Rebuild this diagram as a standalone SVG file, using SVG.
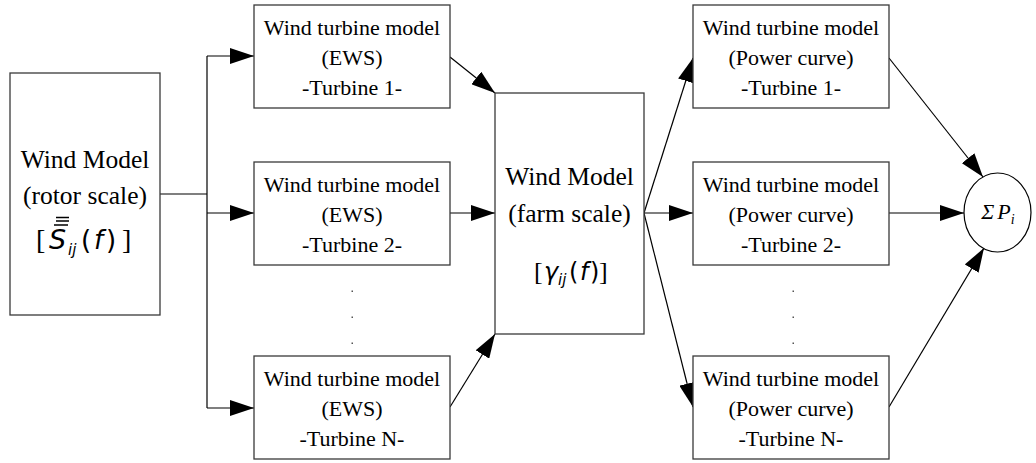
<svg xmlns="http://www.w3.org/2000/svg" width="1036" height="463" viewBox="0 0 1036 463">
<defs>
<style>
.box{fill:#fff;stroke:#3a3a3a;stroke-width:1.3}
.t{font-family:"Liberation Serif",serif;font-size:22px;fill:#000;text-anchor:middle}
.tb{font-family:"Liberation Serif",serif;font-size:25.5px;fill:#000;text-anchor:middle}
.m{font-family:"DejaVu Sans",sans-serif;font-style:italic;fill:#000}
.p{font-family:"DejaVu Sans",sans-serif;fill:#000}
.br{font-family:"Liberation Serif",serif;fill:#000}
.c{fill:none;stroke:#000;stroke-width:1.2}
.dot{fill:#555}
</style>
<marker id="ah" markerUnits="userSpaceOnUse" markerWidth="24" markerHeight="16" refX="24" refY="8" orient="auto" viewBox="0 0 24 16">
<path d="M0,0 L24,8 L0,16 z" fill="#000"/>
</marker>
</defs>
<g id="connectors">
<path class="c" d="M160,194 H207"/>
<path class="c" d="M207,56 V408"/>
<path class="c" d="M207,56 H254" marker-end="url(#ah)"/>
<path class="c" d="M207,213 H254" marker-end="url(#ah)"/>
<path class="c" d="M207,408 H254" marker-end="url(#ah)"/>
<path class="c" d="M450,57 L495,93" marker-end="url(#ah)"/>
<path class="c" d="M450,213 H495" marker-end="url(#ah)"/>
<path class="c" d="M450,407 L495,334" marker-end="url(#ah)"/>
<path class="c" d="M644,213 L693,58" marker-end="url(#ah)"/>
<path class="c" d="M644,213 H693" marker-end="url(#ah)"/>
<path class="c" d="M644,213 L693,407" marker-end="url(#ah)"/>
<path class="c" d="M889,58 L983,177" marker-end="url(#ah)"/>
<path class="c" d="M889,213 H964" marker-end="url(#ah)"/>
<path class="c" d="M889,407 L984,248" marker-end="url(#ah)"/>
</g>
<g id="wind-rotor">
<rect class="box" x="10" y="73" width="150" height="242"/>
<text class="tb" x="85" y="168">Wind Model</text>
<text class="tb" x="85" y="204">(rotor scale)</text>
<text y="249"><tspan class="br" x="36" font-size="28">[</tspan><tspan class="m" x="49" font-size="27">S</tspan><tspan class="m" x="68" dy="6" font-size="15">ij</tspan><tspan class="p" x="81" dy="-6" font-size="26">(</tspan><tspan class="m" x="94" font-size="26">f</tspan><tspan class="p" x="106" font-size="26">)</tspan><tspan class="br" x="122" font-size="28">]</tspan></text>
<path d="M54,225 h14 M56,221 h13 M56,217.5 h13" stroke="#000" stroke-width="1.5"/>
</g>
<g id="ews-1">
<rect class="box" x="254" y="5" width="196" height="103"/>
<text class="t" x="352" y="35">Wind turbine model</text>
<text class="t" x="352" y="65">(EWS)</text>
<text class="t" x="352" y="95">-Turbine 1-</text>
</g>
<g id="ews-2">
<rect class="box" x="254" y="162" width="196" height="103"/>
<text class="t" x="352" y="192">Wind turbine model</text>
<text class="t" x="352" y="222">(EWS)</text>
<text class="t" x="352" y="252">-Turbine 2-</text>
</g>
<g id="ews-n">
<rect class="box" x="254" y="356" width="196" height="103"/>
<text class="t" x="352" y="386">Wind turbine model</text>
<text class="t" x="352" y="416">(EWS)</text>
<text class="t" x="352" y="446">-Turbine N-</text>
</g>
<g id="dots-left">
<rect class="dot" x="351.5" y="290.5" width="1.5" height="1.5"/>
<rect class="dot" x="351.5" y="316.5" width="1.5" height="1.5"/>
<rect class="dot" x="351.5" y="342.5" width="1.5" height="1.5"/>
</g>
<g id="wind-farm">
<rect class="box" x="495" y="93" width="149" height="241"/>
<text class="tb" x="569.5" y="185">Wind Model</text>
<text class="tb" x="569.5" y="222">(farm scale)</text>
<text y="280"><tspan class="br" x="534" font-size="26">[</tspan><tspan class="m" x="544" font-size="24">γ</tspan><tspan class="m" x="558" dy="5" font-size="15">ij</tspan><tspan class="p" x="569" dy="-5" font-size="24">(</tspan><tspan class="m" x="580" font-size="24">f</tspan><tspan class="p" x="590" font-size="24">)</tspan><tspan class="br" x="599" font-size="26">]</tspan></text>
</g>
<g id="pc-1">
<rect class="box" x="693" y="5" width="196" height="103"/>
<text class="t" x="791" y="35">Wind turbine model</text>
<text class="t" x="791" y="65">(Power curve)</text>
<text class="t" x="791" y="95">-Turbine 1-</text>
</g>
<g id="pc-2">
<rect class="box" x="693" y="162" width="196" height="103"/>
<text class="t" x="791" y="192">Wind turbine model</text>
<text class="t" x="791" y="222">(Power curve)</text>
<text class="t" x="791" y="252">-Turbine 2-</text>
</g>
<g id="pc-n">
<rect class="box" x="693" y="356" width="196" height="103"/>
<text class="t" x="791" y="386">Wind turbine model</text>
<text class="t" x="791" y="416">(Power curve)</text>
<text class="t" x="791" y="446">-Turbine N-</text>
</g>
<g id="dots-right">
<rect class="dot" x="792.5" y="290.5" width="1.5" height="1.5"/>
<rect class="dot" x="792.5" y="316.5" width="1.5" height="1.5"/>
<rect class="dot" x="792.5" y="342.5" width="1.5" height="1.5"/>
</g>
<g id="sum">
<ellipse cx="997.5" cy="212.5" rx="33.5" ry="39.5" fill="#fff" stroke="#000" stroke-width="1.2"/>
<text x="998" y="219" text-anchor="middle" font-family="Liberation Serif" font-style="italic" font-size="22">Σ<tspan dx="3">P</tspan><tspan font-size="14" dy="5">i</tspan></text>
</g>
</svg>
